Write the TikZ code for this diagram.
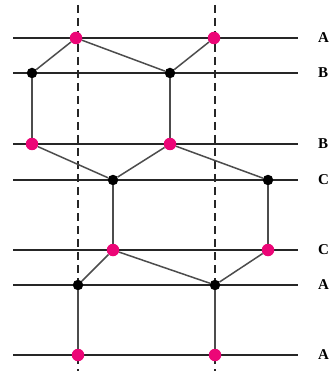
\documentclass[tikz,border=0pt]{standalone}
\usepackage{fontspec}
\setmainfont{Liberation Serif}
\begin{document}
\begin{tikzpicture}[x=1pt,y=-1pt,
  hline/.style={draw=black!85,line width=1.3pt},
  guide/.style={draw=black!85,line width=1.3pt,dash pattern=on 8pt off 5pt},
  bond/.style={draw=black!70,line width=1.5pt},
  pdot/.style={circle,fill=magenta!80!red,inner sep=0pt,minimum size=12.5pt},
  bdot/.style={circle,fill=black,inner sep=0pt,minimum size=10.5pt},
  lab/.style={font=\bfseries\fontsize{15}{17}\selectfont,anchor=west,inner sep=0pt}]
\useasboundingbox (0,0) rectangle (332,371);
% dashed guides
\coordinate (g1t) at (78,5); \coordinate (g1b) at (78,371);
\coordinate (g2t) at (215,5); \coordinate (g2b) at (215,371);
\draw[guide] (g1t) -- (g1b);
\draw[guide] (g2t) -- (g2b);
% horizontal lines
\foreach \y/\n/\t in {38/1/A,73/2/B,144/3/B,180/4/C,250/5/C,285/6/A,355/7/A}{
  \coordinate (l\n) at (13,\y);
  \coordinate (r\n) at (298,\y);
  \draw[hline] (l\n) -- (r\n);
  \node[lab] (t\n) at (318,\y) {\t};
}
% dots
\node[pdot] (a1) at (76,38) {};
\node[pdot] (a2) at (214,38) {};
\node[bdot] (b1) at (32,73) {};
\node[bdot] (b2) at (170,73) {};
\node[pdot] (c1) at (32,144) {};
\node[pdot] (c2) at (170,144) {};
\node[bdot] (d1) at (113,180) {};
\node[bdot] (d2) at (268,180) {};
\node[pdot] (e1) at (113,250) {};
\node[pdot] (e2) at (268,250) {};
\node[bdot] (f1) at (78,285) {};
\node[bdot] (f2) at (215,285) {};
\node[pdot] (h1) at (78,355) {};
\node[pdot] (h2) at (215,355) {};
% bonds
\draw[bond] (a1) -- (b1);
\draw[bond] (a1) -- (b2);
\draw[bond] (a2) -- (b2);
\draw[bond] (b1) -- (c1);
\draw[bond] (b2) -- (c2);
\draw[bond] (c1) -- (d1);
\draw[bond] (c2) -- (d1);
\draw[bond] (c2) -- (d2);
\draw[bond] (d1) -- (e1);
\draw[bond] (d2) -- (e2);
\draw[bond] (e1) -- (f1);
\draw[bond] (e1) -- (f2);
\draw[bond] (e2) -- (f2);
\draw[bond] (f1) -- (h1);
\draw[bond] (f2) -- (h2);
\end{tikzpicture}
\end{document}
